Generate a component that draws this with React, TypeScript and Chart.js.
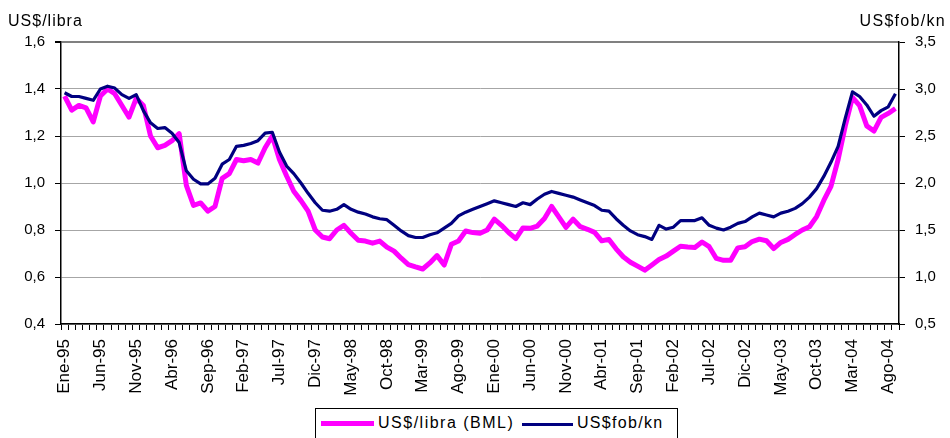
import { useEffect, useRef } from 'react';
import { Chart, registerables } from 'chart.js';

Chart.register(...registerables);

const FONT = '"Liberation Sans", Arial, sans-serif';

const monthNames = ['Ene', 'Feb', 'Mar', 'Abr', 'May', 'Jun', 'Jul', 'Ago', 'Sep', 'Oct', 'Nov', 'Dic'];
const years = ['95', '96', '97', '98', '99', '00', '01', '02', '03', '04'];
const monthCount = 117; // Ene-95 .. Sep-04

const categories: string[] = [];
for (const yy of years) {
  for (const m of monthNames) {
    if (categories.length < monthCount) categories.push(`${m}-${yy}`);
  }
}

// US$/libra (BML) – left axis
const libraBML = [
  1.37, 1.31, 1.33, 1.32, 1.26, 1.37, 1.40, 1.38, 1.33, 1.28,
  1.36, 1.33, 1.20, 1.15, 1.16, 1.18, 1.21, 0.99, 0.905, 0.915,
  0.88, 0.90, 1.02, 1.04, 1.10, 1.095, 1.10, 1.085, 1.15, 1.20,
  1.10, 1.03, 0.965, 0.925, 0.88, 0.80, 0.77, 0.763, 0.80, 0.82,
  0.786, 0.756, 0.753, 0.744, 0.753, 0.727, 0.71, 0.68, 0.653, 0.643,
  0.634, 0.66, 0.691, 0.651, 0.739, 0.753, 0.796, 0.789, 0.786, 0.80,
  0.846, 0.82, 0.789, 0.763, 0.809, 0.807, 0.817, 0.849, 0.90, 0.856,
  0.811, 0.846, 0.814, 0.803, 0.79, 0.754, 0.76, 0.72, 0.686, 0.663,
  0.646, 0.629, 0.651, 0.674, 0.689, 0.71, 0.731, 0.728, 0.726, 0.749,
  0.729, 0.679, 0.671, 0.671, 0.724, 0.729, 0.751, 0.761, 0.754, 0.721,
  0.747, 0.76, 0.781, 0.80, 0.814, 0.857, 0.926, 0.986, 1.10, 1.243,
  1.364, 1.329, 1.243, 1.221, 1.279, 1.296, 1.317,
];

// US$fob/kn – right axis
const fobKn = [
  2.96, 2.92, 2.92, 2.90, 2.88, 3.00, 3.03, 3.01, 2.94, 2.90,
  2.94, 2.77, 2.64, 2.58, 2.59, 2.53, 2.43, 2.13, 2.04, 1.99,
  1.99, 2.05, 2.20, 2.25, 2.39, 2.40, 2.42, 2.45, 2.53, 2.54,
  2.33, 2.18, 2.10, 2.00, 1.89, 1.79, 1.71, 1.70, 1.72, 1.77,
  1.72, 1.69, 1.67, 1.64, 1.62, 1.61, 1.55, 1.49, 1.44, 1.42,
  1.42, 1.45, 1.47, 1.52, 1.57, 1.65, 1.69, 1.72, 1.75, 1.78,
  1.81, 1.79, 1.77, 1.75, 1.79, 1.77, 1.83, 1.88, 1.91, 1.89,
  1.87, 1.85, 1.82, 1.79, 1.76, 1.71, 1.70, 1.62, 1.55, 1.49,
  1.45, 1.43, 1.40, 1.55, 1.51, 1.53, 1.60, 1.60, 1.60, 1.63,
  1.55, 1.52, 1.50, 1.53, 1.57, 1.59, 1.64, 1.68, 1.66, 1.64,
  1.68, 1.70, 1.73, 1.78, 1.85, 1.94, 2.07, 2.22, 2.39, 2.69,
  2.97, 2.92, 2.83, 2.71, 2.77, 2.81, 2.95,
];

const leftTitle = 'US$/libra';
const rightTitle = 'US$fob/kn';
const seriesNames = ['US$/libra (BML)', 'US$fob/kn'];
const seriesColors = ['#FF00FF', '#000080'];

const fmt = (v: number | string) => Number(v).toFixed(1).replace('.', ',');

export default function App() {
  const ref = useRef<HTMLCanvasElement>(null);

  useEffect(() => {
    if (!ref.current) return;
    const chart = new Chart(ref.current, {
      type: 'line',
      data: {
        labels: categories,
        datasets: [
          {
            label: seriesNames[0],
            data: libraBML,
            yAxisID: 'y',
            borderColor: seriesColors[0],
            backgroundColor: seriesColors[0],
            borderWidth: 5,
            pointRadius: 0,
            tension: 0,
            borderJoinStyle: 'round',
            order: 2,
          },
          {
            label: seriesNames[1],
            data: fobKn,
            yAxisID: 'y1',
            borderColor: seriesColors[1],
            backgroundColor: seriesColors[1],
            borderWidth: 3.2,
            pointRadius: 0,
            tension: 0,
            borderJoinStyle: 'round',
            order: 1,
          },
        ],
      },
      options: {
        responsive: false,
        animation: false,
        layout: { padding: { top: 42, left: 0, right: 0, bottom: 0 } },
        plugins: { legend: { display: false }, tooltip: { enabled: false } },
        scales: {
          x: {
            type: 'category',
            offset: true,
            grid: {
              display: true,
              drawOnChartArea: false,
              drawTicks: true,
              tickLength: 6,
              offset: true,
              color: '#000',
              lineWidth: 1,
            },
            border: { display: true, color: '#000', width: 1.5 },
            ticks: {
              autoSkip: false,
              maxRotation: 90,
              minRotation: 90,
              padding: 9,
              color: '#000',
              font: { family: FONT, size: 17 },
              callback: (_v: any, index: number) => (index % 5 === 0 ? categories[index] : ''),
            },
            afterFit: (s: any) => {
              s.height = 114;
            },
          },
          y: {
            position: 'left',
            min: 0.4,
            max: 1.6,
            ticks: {
              stepSize: 0.2,
              padding: 10,
              color: '#000',
              font: { family: FONT, size: 15 },
              callback: (v: any) => fmt(v),
            },
            grid: {
              color: (ctx: any) => (ctx.tick && ctx.tick.value > 1.59 ? '#808080' : '#a6a6a6'),
              lineWidth: (ctx: any) => (ctx.tick && ctx.tick.value > 1.59 ? 2 : 1),
              tickColor: '#000',
              tickLength: 6,
            },
            border: { display: true, color: '#000', width: 1.5 },
            afterFit: (s: any) => {
              s.width = 61;
            },
          },
          y1: {
            position: 'right',
            min: 0.5,
            max: 3.5,
            ticks: {
              stepSize: 0.5,
              padding: 10,
              color: '#000',
              font: { family: FONT, size: 15 },
              callback: (v: any) => fmt(v),
            },
            grid: { drawOnChartArea: false, tickColor: '#000', tickLength: 6 },
            border: { display: true, color: '#000', width: 1.5 },
            afterFit: (s: any) => {
              s.width = 51;
            },
          },
        },
      },
    });
    return () => chart.destroy();
  }, []);

  const textBase: React.CSSProperties = {
    position: 'absolute',
    fontFamily: FONT,
    fontSize: 16,
    lineHeight: '18px',
    color: '#000',
    whiteSpace: 'nowrap',
  };

  return (
    <div
      style={{
        position: 'fixed',
        left: 0,
        top: 0,
        width: 950,
        height: 438,
        overflow: 'hidden',
        background: '#fff',
      }}
    >
      <canvas ref={ref} width={950} height={438} style={{ position: 'absolute', left: 0, top: 0, width: 950, height: 438 }} />
      <div style={{ ...textBase, left: 8, top: 12, letterSpacing: '1px' }}>{leftTitle}</div>
      <div style={{ ...textBase, right: 4, top: 12, letterSpacing: '1.3px' }}>{rightTitle}</div>
      <div
        style={{
          position: 'absolute',
          left: 315,
          top: 408,
          width: 363,
          height: 40,
          border: '1px solid #000',
          boxSizing: 'border-box',
          background: '#fff',
        }}
      >
        <div style={{ position: 'absolute', left: 5, top: 12, width: 53, height: 5, background: seriesColors[0] }} />
        <div style={{ ...textBase, left: 62, top: 5, letterSpacing: '1.5px' }}>{seriesNames[0]}</div>
        <div style={{ position: 'absolute', left: 206, top: 14, width: 51, height: 3, background: seriesColors[1] }} />
        <div style={{ ...textBase, left: 261, top: 5, letterSpacing: '1.3px' }}>{seriesNames[1]}</div>
      </div>
    </div>
  );
}
